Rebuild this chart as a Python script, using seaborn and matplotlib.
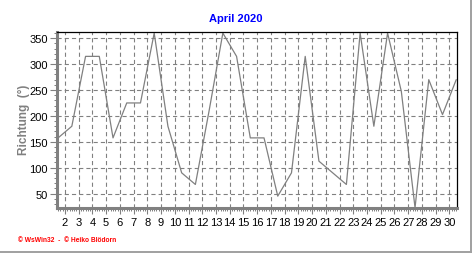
import numpy as np
import pandas as pd
import matplotlib
matplotlib.use("Agg")
import matplotlib.pyplot as plt
import seaborn as sns
from matplotlib.ticker import FixedLocator, FixedFormatter, MultipleLocator, NullFormatter
from matplotlib.lines import Line2D

# ---- data ----
days = list(range(1, 31))
direction = [157.5, 180, 315, 315, 157.5, 225, 225, 360, 180, 90,
             67.5, 210, 360, 315, 157.5, 157.5, 45, 90, 315, 112.5,
             90, 67.5, 360, 180, 360, 247.5, 22.5, 270, 202.5, 270]
tick_days = list(range(2, 31))
tick_labels = [str(d) for d in tick_days]
y_ticks = [50, 100, 150, 200, 250, 300, 350]
title = "April 2020"
ylabel = "Richtung  (°)"
footer = "© WsWin32  -  © Heiko Blödorn"

sns.set_style("white")
plt.rcParams['font.family'] = ['Liberation Sans', 'DejaVu Sans']
plt.rcParams['lines.scale_dashes'] = False

W, H = 472, 255
fig = plt.figure(figsize=(W / 100, H / 100), dpi=100)
left, right, top, bottom = 57, 456.5, 33.3, 208.5
ax = fig.add_axes([left / W, 1 - bottom / H, (right - left) / W, (bottom - top) / H])

df = pd.DataFrame({"Tag": days, "Richtung": direction})
sns.lineplot(data=df, x="Tag", y="Richtung", ax=ax, color="#808080", linewidth=0.9)

ax.set_xlim(0.92, 30.02)
ax.set_ylim(23, 361.5)
ax.set_xlabel("")
ax.set_ylabel("")

# x ticks: day boundaries (data points sit at midday)
xpos = [d - 0.5 for d in tick_days]
ax.xaxis.set_major_locator(FixedLocator(xpos))
ax.xaxis.set_major_formatter(FixedFormatter(tick_labels))
minor_x = [d - 0.5 + k / 6 for d in range(1, 32) for k in range(6)]
ax.xaxis.set_minor_locator(FixedLocator(minor_x))
ax.xaxis.set_minor_formatter(NullFormatter())

ax.yaxis.set_major_locator(FixedLocator(y_ticks))
ax.yaxis.set_minor_locator(MultipleLocator(10))

ax.set_axisbelow(True)
ax.grid(True, which='major', axis='both', linestyle=(0, (3, 2.2)),
        color='#808080', linewidth=0.8)

for s in ['left', 'bottom']:
    ax.spines[s].set_color('#808080')
    ax.spines[s].set_linewidth(2.2)
for s in ['top', 'right']:
    ax.spines[s].set_color('black')
    ax.spines[s].set_linewidth(0.9)

ax.tick_params(axis='x', which='major', length=4, width=0.8, color='#808080',
               pad=3, labelsize=8, labelcolor='black', direction='out', bottom=True)
ax.tick_params(axis='x', which='minor', length=2, width=0.7, color='#808080', bottom=True)
ax.tick_params(axis='y', which='major', length=5, width=0.8, color='#808080',
               pad=1.5, labelsize=8, labelcolor='black', direction='out', left=True)
ax.tick_params(axis='y', which='minor', length=2.5, width=0.7, color='#808080', left=True)

fig.text(0.5, 1 - 19 / H, title, color='#0000FF', fontweight='bold',
         fontsize=8, ha='center', va='center')
fig.text(24 / W, 1 - 119.4 / H, ylabel, color='#808080', fontweight='bold',
         fontsize=8.5, rotation=90, ha='center', va='center')
fig.text(18 / W, 1 - 241 / H, footer, color='red', fontweight='bold',
         fontsize=4.8, ha='left', va='center')

# window frame edges
fig.add_artist(Line2D([0, 1], [1 - 253 / H, 1 - 253 / H], transform=fig.transFigure,
                      color='#a0a0a0', linewidth=1.4))
fig.add_artist(Line2D([1 - 1.5 / W, 1 - 1.5 / W], [1 - 253 / H, 1], transform=fig.transFigure,
                      color='#a0a0a0', linewidth=1.4))

fig.savefig("out.png", dpi=100)
